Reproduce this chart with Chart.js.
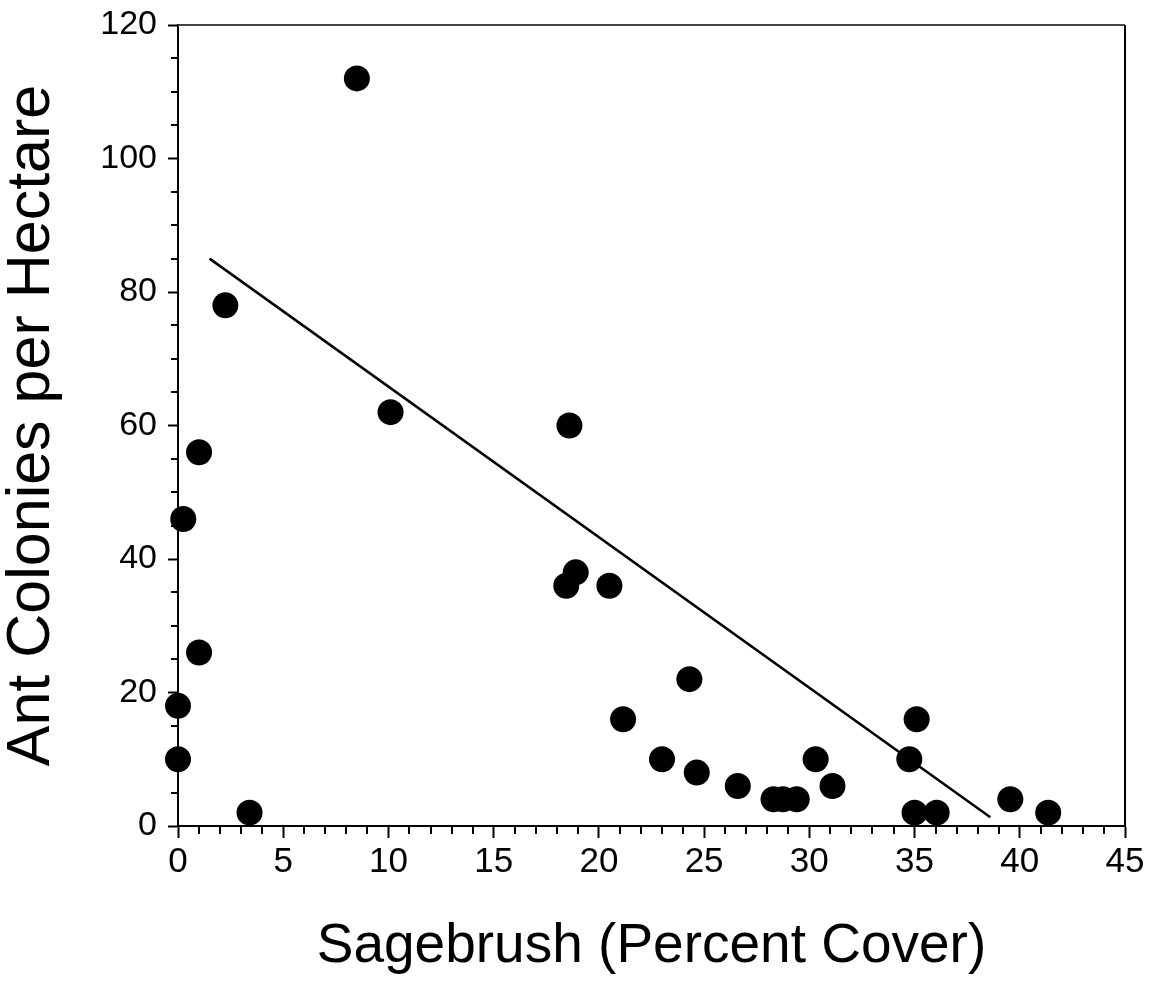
<!DOCTYPE html>
<html>
<head>
<meta charset="utf-8">
<script src="https://cdn.jsdelivr.net/npm/chart.js@4.4.1/dist/chart.umd.min.js"></script>
<style>
  html, body { margin: 0; padding: 0; background: #fff; }
  #wrap { width: 1160px; height: 982px; position: relative; }
</style>
</head>
<body>
<div id="wrap"><canvas id="c" width="1160" height="982"></canvas></div>
<script>
// ---- data ----
const sagebrushCover = [0, 0, 0.25, 1.0, 1.0, 2.25, 3.4, 8.5, 10.1, 18.6, 18.45, 18.9, 20.5, 21.15, 24.3, 23.0, 24.65, 26.6, 28.3, 28.75, 29.4, 30.3, 31.1, 34.75, 35.1, 35.0, 36.05, 39.55, 41.35];
const antColonies    = [18, 10, 46, 56, 26, 78, 2, 112, 62, 60, 36, 38, 36, 16, 22, 10, 8, 6, 4, 4, 4, 10, 6, 10, 16, 2, 2, 4, 2];
const fitLineX = [1.5, 38.6];
const fitLineY = [85, 1.3];
const xTickValues = [0, 5, 10, 15, 20, 25, 30, 35, 40, 45];
const yTickValues = [0, 20, 40, 60, 80, 100, 120];
const xTitle = 'Sagebrush (Percent Cover)';
const yTitle = 'Ant Colonies per Hectare';

const FONT = "'Liberation Sans', Arial, Helvetica, sans-serif";

const points = sagebrushCover.map((x, i) => ({ x: x, y: antColonies[i] }));
const fit = fitLineX.map((x, i) => ({ x: x, y: fitLineY[i] }));

// minor ticks + frame plugin (uses library scales for positions)
const framePlugin = {
  id: 'frame',
  beforeDatasetsDraw(chart) {
    const ctx = chart.ctx;
    const a = chart.chartArea;
    const xs = chart.scales.x, ys = chart.scales.y;
    ctx.save();
    ctx.strokeStyle = '#000';
    ctx.lineWidth = 2;
    ctx.beginPath();
    for (let v = xs.min; v <= xs.max; v += 1) {
      if (v % 5 === 0) continue;
      const px = Math.round(xs.getPixelForValue(v));
      ctx.moveTo(px, a.bottom);
      ctx.lineTo(px, a.bottom + 8);
    }
    for (let v = ys.min; v <= ys.max; v += 5) {
      if (v % 20 === 0) continue;
      const py = Math.round(ys.getPixelForValue(v));
      ctx.moveTo(a.left, py);
      ctx.lineTo(a.left - 7, py);
    }
    ctx.stroke();
    ctx.beginPath();
    ctx.strokeStyle = '#444';
    ctx.moveTo(a.left, a.top);
    ctx.lineTo(a.right, a.top);
    ctx.stroke();
    ctx.beginPath();
    ctx.strokeStyle = '#000';
    ctx.moveTo(a.right, a.top);
    ctx.lineTo(a.right, a.bottom);
    ctx.stroke();
    ctx.restore();
  }
};

new Chart(document.getElementById('c'), {
  type: 'scatter',
  data: {
    datasets: [
      {
        label: 'Sites',
        data: points,
        pointRadius: 13,
        pointHoverRadius: 13,
        pointBackgroundColor: '#000',
        pointBorderColor: '#000',
        pointBorderWidth: 0,
        clip: false,
        order: 1
      },
      {
        label: 'Fit',
        data: fit,
        showLine: true,
        borderColor: '#000',
        borderWidth: 2.5,
        pointRadius: 0,
        pointHoverRadius: 0,
        clip: false,
        order: 2
      }
    ]
  },
  options: {
    responsive: false,
    animation: false,
    events: [],
    layout: { padding: { left: 0, right: 35, top: 25, bottom: 0 } },
    plugins: {
      legend: { display: false },
      tooltip: { enabled: false }
    },
    scales: {
      x: {
        type: 'linear',
        min: 0,
        max: 45,
        afterBuildTicks(scale) { scale.ticks = xTickValues.map(v => ({ value: v })); },
        afterFit(scale) {
          scale.height = 156;
          scale.paddingLeft = 0; scale.paddingRight = 0;
          scale.paddingTop = 0; scale.paddingBottom = 0;
        },
        ticks: {
          color: '#000',
          font: { family: FONT, size: 35, lineHeight: 1 },
          padding: 7,
          maxRotation: 0,
          autoSkip: false
        },
        grid: {
          drawOnChartArea: false,
          drawTicks: true,
          tickLength: 12,
          tickWidth: 2,
          tickColor: '#000'
        },
        border: { display: true, color: '#000', width: 2 },
        title: {
          display: true,
          text: xTitle,
          color: '#000',
          font: { family: FONT, size: 55, lineHeight: 1 },
          padding: { top: 0, bottom: 8 }
        }
      },
      y: {
        type: 'linear',
        min: 0,
        max: 120,
        afterBuildTicks(scale) { scale.ticks = yTickValues.map(v => ({ value: v })); },
        afterFit(scale) {
          scale.width = 178;
          scale.paddingLeft = 0; scale.paddingRight = 0;
          scale.paddingTop = 0; scale.paddingBottom = 0;
        },
        ticks: {
          color: '#000',
          font: { family: FONT, size: 34, lineHeight: 1 },
          padding: 11,
          autoSkip: false
        },
        grid: {
          drawOnChartArea: false,
          drawTicks: true,
          tickLength: 10,
          tickWidth: 2,
          tickColor: '#000'
        },
        border: { display: true, color: '#000', width: 2 },
        title: {
          display: true,
          text: yTitle,
          color: '#000',
          font: { family: FONT, size: 61, lineHeight: 1 },
          padding: { top: 2, bottom: 0 }
        }
      }
    }
  },
  plugins: [framePlugin]
});
</script>
</body>
</html>
